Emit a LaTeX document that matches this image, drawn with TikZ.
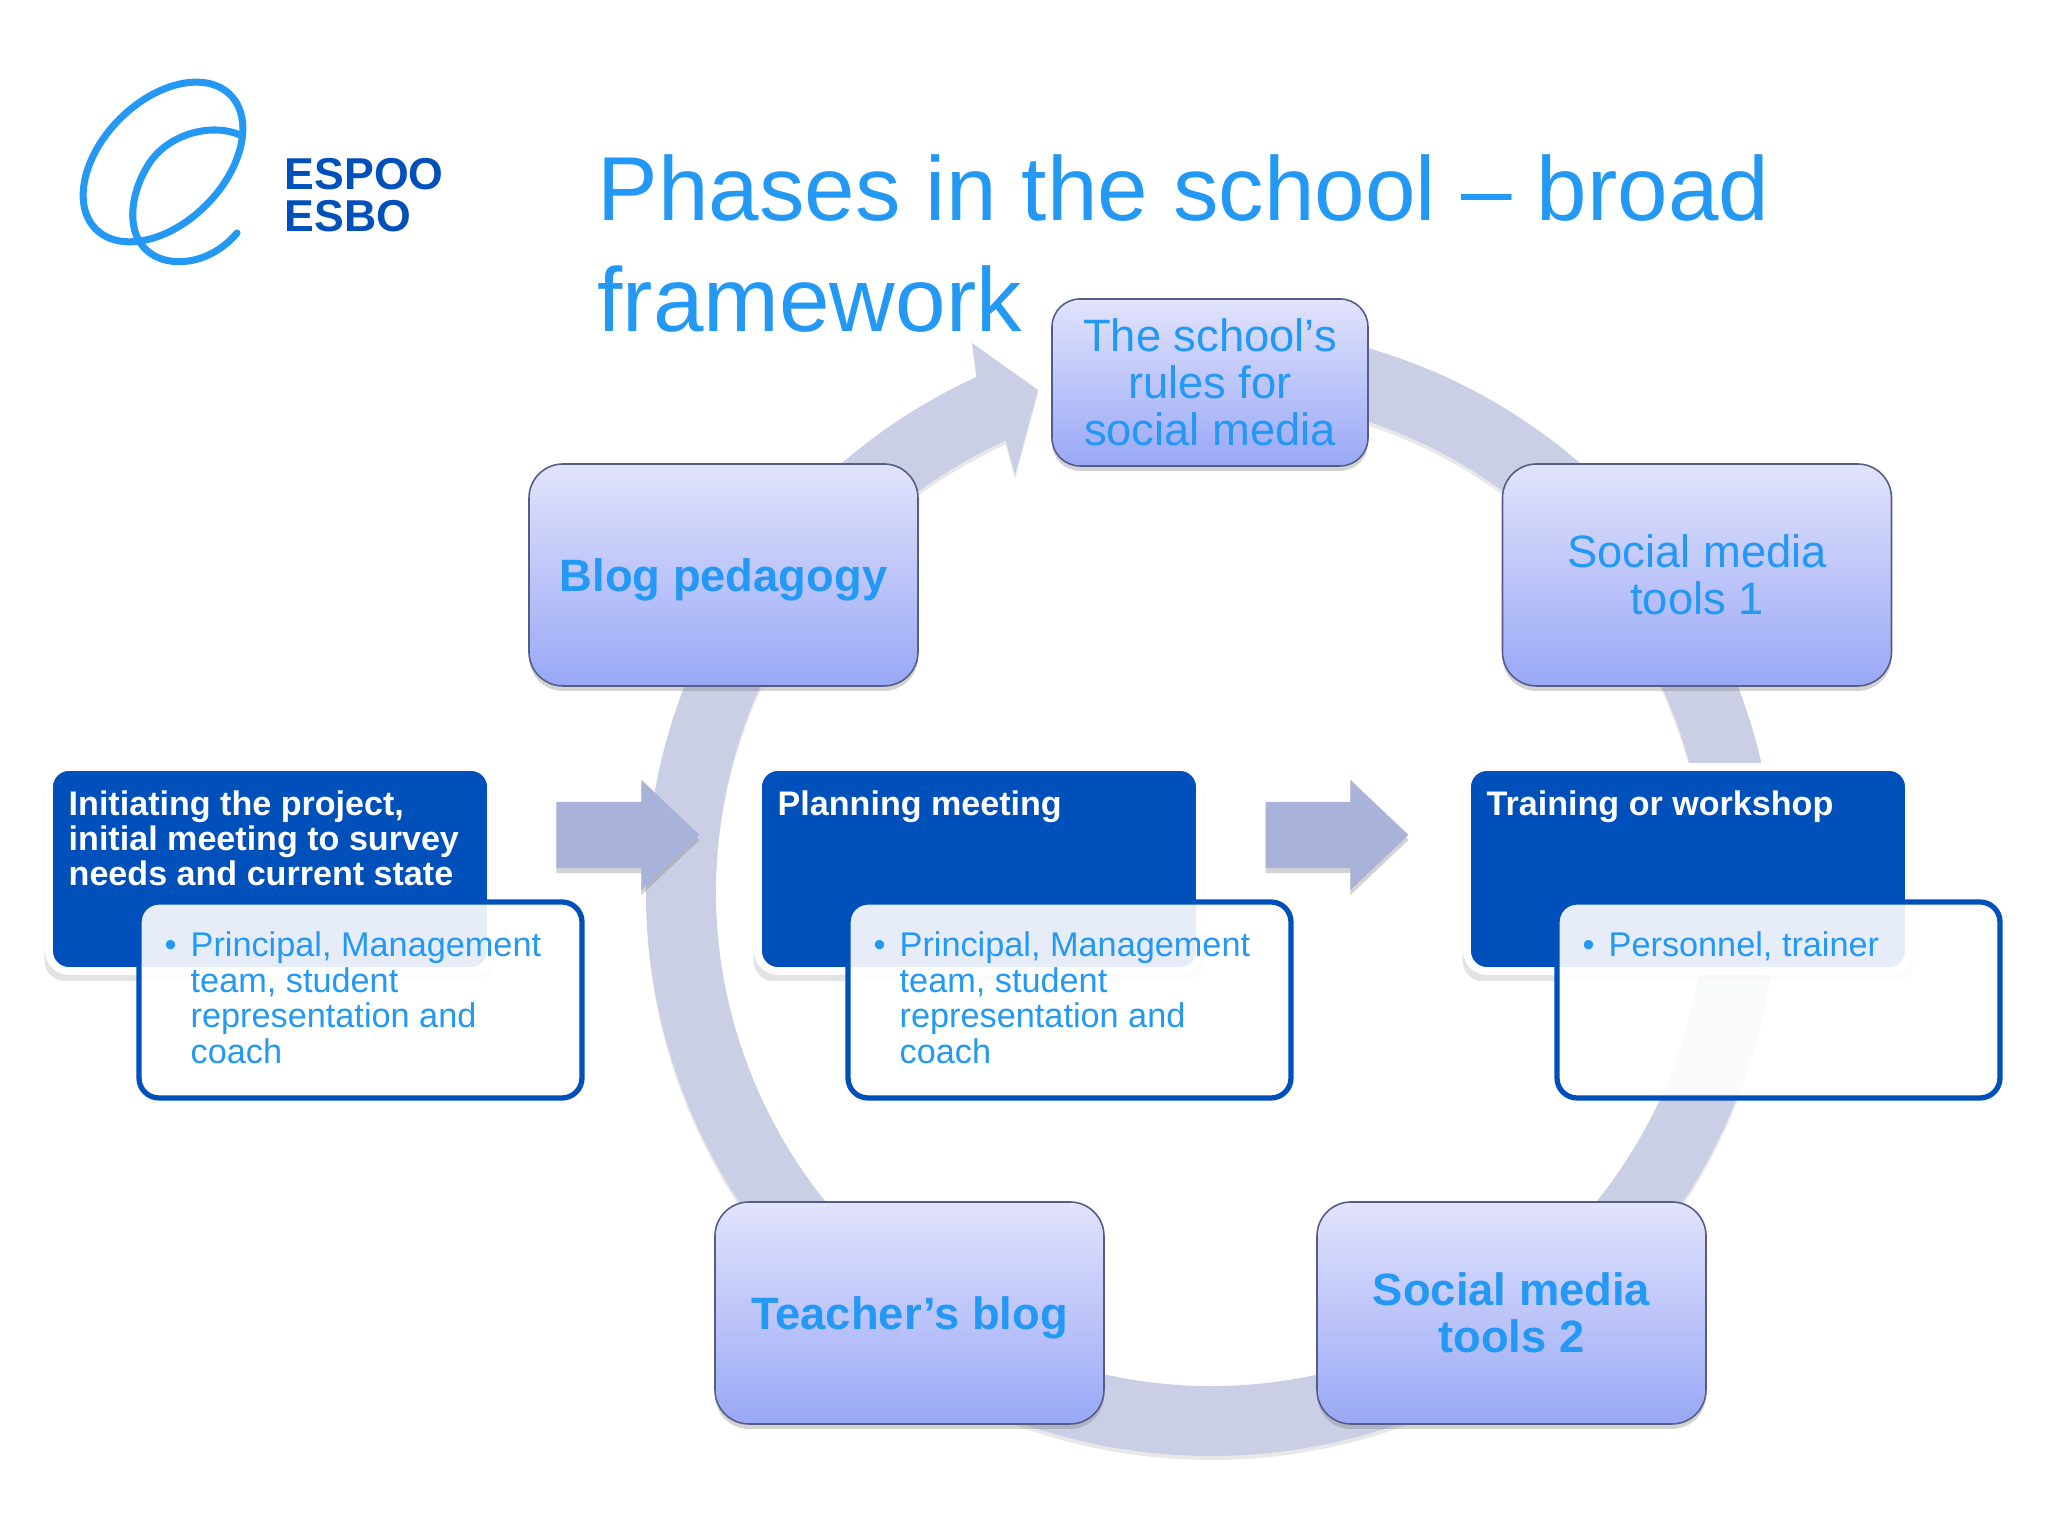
\documentclass[tikz,border=0pt]{standalone}
\usepackage{fontspec}
\setmainfont{Liberation Sans}
\usepackage{xcolor}
\usetikzlibrary{shadows,shapes.arrows}

\definecolor{skyText}{HTML}{2398F4}
\definecolor{deepBlue}{HTML}{0050BC}
\definecolor{ringFill}{HTML}{CBCFE6}
\definecolor{arrowFill}{HTML}{A9B3DA}
\definecolor{boxTop}{HTML}{E2E3FC}
\definecolor{boxBottom}{HTML}{99A8F6}

\tikzset{
  softshadow/.style={drop shadow={shadow xshift=0cm,shadow yshift=-0.05cm,opacity=0.35}},
  phasebox/.style={draw=black!45!boxBottom,line width=0.45pt,rounded corners=0.34cm,
    top color=boxTop,bottom color=boxBottom,softshadow,text=skyText,align=center,
    inner sep=0pt,font=\fontsize{12.9}{13.4}\selectfont},
  headbox/.style={fill=deepBlue,draw=white,line width=2.2pt,rounded corners=0.2cm,
    minimum width=4.42cm,minimum height=2.04cm,inner sep=0pt,
    drop shadow={shadow xshift=0cm,shadow yshift=-0.08cm,shadow scale=1.02,opacity=0.22}},
  whobox/.style={fill=white,fill opacity=0.9,draw=deepBlue,line width=1.5pt,rounded corners=0.2cm,
    minimum width=4.43cm,minimum height=1.96cm,inner sep=0pt},
  headtext/.style={anchor=base west,inner sep=0pt,text=white,font=\bfseries\fontsize{9.7}{10}\selectfont},
  whotext/.style={anchor=base west,inner sep=0pt,text=skyText,font=\fontsize{9.75}{10}\selectfont},
  blockarrow/.style={single arrow,fill=arrowFill,minimum height=1.43cm,
    single arrow head extend=0.22cm,single arrow tip angle=87,inner sep=0pt,softshadow},
  logotext/.style={anchor=base west,inner sep=0pt,text=deepBlue,font=\bfseries\fontsize{12.7}{13}\selectfont},
  logoline/.style={draw=skyText,line width=2pt,line cap=round}
}

\begin{document}
\begin{tikzpicture}
  \useasboundingbox (0,0) rectangle (20.48,15.36);

  % Set the ring size
  \def\rOut{5.65}
  \def\rIn{4.95}
  \coordinate (ringC) at (12.11,6.45);

  % Draw the ring with its arrow head
  \fill[ringFill,drop shadow={shadow xshift=0cm,shadow yshift=-0.04cm,opacity=0.18}]
    ([shift={(90:\rOut)}]ringC) arc[start angle=90,end angle=-245.5,radius=\rOut]
    -- (9.72,11.93) -- (10.38,11.46) -- (10.15,10.61)
    -- ([shift={(114.5:\rIn)}]ringC) arc[start angle=-245.5,end angle=90,radius=\rIn] -- cycle;

  % Logo
  \draw[logoline,rotate around={45:(1.63,13.74)}] (1.63,13.74) ellipse (0.95 and 0.61);
  \draw[logoline] (2.40,14.01) .. controls (2.10,14.14) and (1.65,14.01) .. (1.47,13.69)
    .. controls (1.30,13.41) and (1.25,13.01) .. (1.50,12.83)
    .. controls (1.70,12.68) and (2.10,12.71) .. (2.37,13.03);
  \node[logotext] (logoEspoo) at (2.84,13.46) {ESPOO};
  \node[logotext] (logoEsbo) at (2.84,13.04) {ESBO};

  % Title
  \node[anchor=base west,inner sep=0pt,text=skyText,font=\fontsize{25.85}{31.5}\selectfont] (title) at (5.97,13.15)
    {\begin{tabular}[t]{@{}l@{}}Phases in the school – broad\\framework\end{tabular}};

  % Phases on the ring
  \node[phasebox,minimum width=3.16cm,minimum height=1.67cm,rounded corners=0.28cm] (rules) at (12.10,11.535)
    {The school’s\\rules for\\social media};
  \node[phasebox,minimum width=3.89cm,minimum height=2.22cm,text depth=0pt] (blog) at (7.235,9.61)
    {\bfseries Blog pedagogy};
  \node[phasebox,minimum width=3.89cm,minimum height=2.22cm] (toolsA) at (16.97,9.61)
    {Social media\\tools 1};
  \node[phasebox,minimum width=3.89cm,minimum height=2.22cm,text depth=0pt] (teacher) at (9.095,2.23)
    {\bfseries Teacher’s blog};
  \node[phasebox,minimum width=3.89cm,minimum height=2.22cm] (toolsB) at (15.115,2.23)
    {\bfseries Social media\\\bfseries tools 2};

  % Arrows between the steps
  \node[blockarrow] (arrowA) at (6.105,7.01) {\rule{0pt}{0.65cm}};
  \node[blockarrow] (arrowB) at (13.195,7.01) {\rule{0pt}{0.65cm}};

  % First step
  \node[headbox] (initBox) at (2.70,6.67) {};
  \node[headtext] (initText) at (0.68,7.205)
    {\begin{tabular}[t]{@{}l@{}}Initiating the project,\\initial meeting to survey\\needs and current state\end{tabular}};
  \node[whobox] (initWho) at (3.605,5.36) {};
  \node[whotext] (initList) at (1.64,5.79)
    {\begin{tabular}[t]{@{}l@{\hspace{0.14cm}}l@{}}• & Principal, Management\\ & team, student\\ & representation and\\ & coach\end{tabular}};

  % Second step
  \node[headbox] (planBox) at (9.79,6.67) {};
  \node[headtext] (planText) at (7.77,7.205)
    {\begin{tabular}[t]{@{}l@{}}Planning meeting\end{tabular}};
  \node[whobox] (planWho) at (10.695,5.36) {};
  \node[whotext] (planList) at (8.73,5.79)
    {\begin{tabular}[t]{@{}l@{\hspace{0.14cm}}l@{}}• & Principal, Management\\ & team, student\\ & representation and\\ & coach\end{tabular}};

  % Third step
  \node[headbox] (trainBox) at (16.88,6.67) {};
  \node[headtext] (trainText) at (14.86,7.205)
    {\begin{tabular}[t]{@{}l@{}}Training or workshop\end{tabular}};
  \node[whobox] (trainWho) at (17.785,5.36) {};
  \node[whotext] (trainList) at (15.82,5.79)
    {\begin{tabular}[t]{@{}l@{\hspace{0.14cm}}l@{}}• & Personnel, trainer\end{tabular}};

\end{tikzpicture}
\end{document}
